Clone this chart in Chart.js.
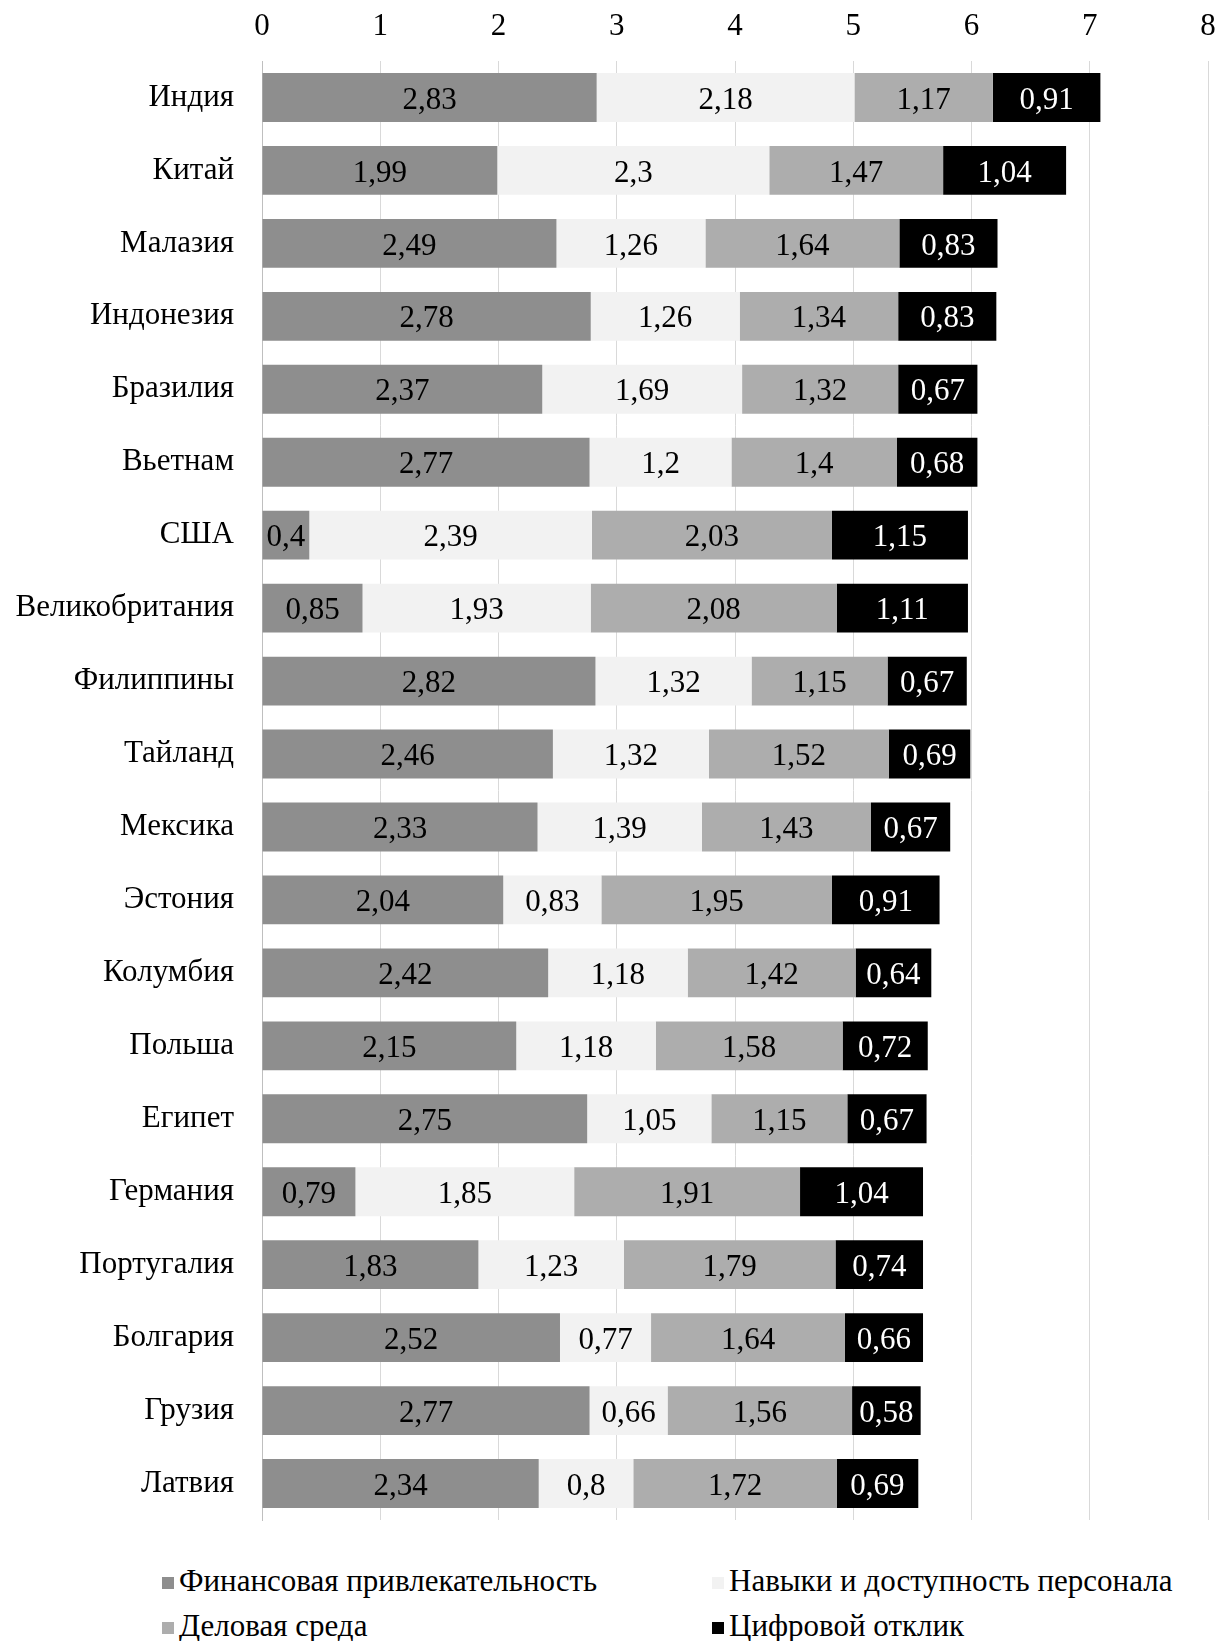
<!DOCTYPE html>
<html>
<head>
<meta charset="utf-8">
<script src="https://cdn.jsdelivr.net/npm/chart.js@4/dist/chart.umd.min.js"></script>
<style>
  body { margin: 0; background: #fff; overflow: hidden; }
  #wrap { position: relative; width: 1226px; height: 1641px; }
  #legend { position: absolute; left: 0; top: 1563px; width: 1226px; font-family: "Liberation Serif", serif; font-size: 31px; color: #000; }
  .item { position: absolute; display: flex; align-items: center; white-space: nowrap; }
  .box { width: 12px; height: 12px; margin-right: 5px; margin-top: 4px; }
</style>
</head>
<body>
<div id="wrap">
  <canvas id="chart" width="1226" height="1545"></canvas>
  <div id="legend"></div>
</div>
<script>
// категории и значения
const countries = ['Индия', 'Китай', 'Малазия', 'Индонезия', 'Бразилия', 'Вьетнам', 'США', 'Великобритания',
  'Филиппины', 'Тайланд', 'Мексика', 'Эстония', 'Колумбия', 'Польша', 'Египет', 'Германия',
  'Португалия', 'Болгария', 'Грузия', 'Латвия'];
const seriesNames = ['Финансовая привлекательность', 'Навыки и доступность персонала', 'Деловая среда', 'Цифровой отклик'];
const finance = [2.83, 1.99, 2.49, 2.78, 2.37, 2.77, 0.4, 0.85, 2.82, 2.46, 2.33, 2.04, 2.42, 2.15, 2.75, 0.79, 1.83, 2.52, 2.77, 2.34];
const skills = [2.18, 2.3, 1.26, 1.26, 1.69, 1.2, 2.39, 1.93, 1.32, 1.32, 1.39, 0.83, 1.18, 1.18, 1.05, 1.85, 1.23, 0.77, 0.66, 0.8];
const business = [1.17, 1.47, 1.64, 1.34, 1.32, 1.4, 2.03, 2.08, 1.15, 1.52, 1.43, 1.95, 1.42, 1.58, 1.15, 1.91, 1.79, 1.64, 1.56, 1.72];
const digital = [0.91, 1.04, 0.83, 0.83, 0.67, 0.68, 1.15, 1.11, 0.67, 0.69, 0.67, 0.91, 0.64, 0.72, 0.67, 1.04, 0.74, 0.66, 0.58, 0.69];
const xTicks = [0, 1, 2, 3, 4, 5, 6, 7, 8];

const colors = ['#8e8e8e', '#f2f2f2', '#adadad', '#000000'];
const labelColors = ['#000', '#000', '#000', '#fff'];
const FONT = '"Liberation Serif", serif';

// подписи значений внутри сегментов
const valueLabels = {
  id: 'valueLabels',
  afterDatasetsDraw(chart) {
    const { ctx } = chart;
    ctx.save();
    ctx.font = '31px ' + FONT;
    ctx.textAlign = 'center';
    ctx.textBaseline = 'middle';
    chart.data.datasets.forEach((ds, i) => {
      const meta = chart.getDatasetMeta(i);
      ctx.fillStyle = labelColors[i];
      meta.data.forEach((el, j) => {
        const txt = String(ds.data[j]).replace('.', ',');
        ctx.fillText(txt, (el.x + el.base) / 2, el.y + 3);
      });
    });
    ctx.restore();
  }
};

const datasets = [finance, skills, business, digital].map((d, i) => ({
  label: seriesNames[i],
  data: d,
  backgroundColor: colors[i],
  borderWidth: 0,
  categoryPercentage: 0.67,
  barPercentage: 1
}));

new Chart(document.getElementById('chart'), {
  type: 'bar',
  data: { labels: countries, datasets: datasets },
  plugins: [valueLabels],
  options: {
    indexAxis: 'y',
    responsive: false,
    animation: false,
    layout: { padding: { left: 0, right: 18, top: 0, bottom: 25 } },
    plugins: { legend: { display: false }, tooltip: { enabled: false } },
    scales: {
      x: {
        position: 'top',
        stacked: true,
        min: 0,
        max: 8,
        afterBuildTicks: (scale) => { scale.ticks = xTicks.map(v => ({ value: v })); },
        afterFit: (scale) => { scale.height = 61; scale.paddingLeft = 0; scale.paddingRight = 0; },
        ticks: { font: { family: FONT, size: 31 }, color: '#000', padding: 16 },
        grid: { color: '#d9d9d9', lineWidth: 1, drawTicks: false },
        border: { display: false }
      },
      y: {
        stacked: true,
        afterFit: (scale) => { scale.width = 262; scale.paddingTop = 0; scale.paddingBottom = 0; },
        ticks: { font: { family: FONT, size: 31 }, color: '#000', padding: 28 },
        grid: { display: false, drawTicks: false },
        border: { display: true, color: '#bfbfbf', width: 1 }
      }
    }
  }
});

// легенда в две колонки
const legend = document.getElementById('legend');
const pos = [[162, 0], [712, 0], [162, 45], [712, 45]];
seriesNames.forEach((name, i) => {
  const it = document.createElement('div');
  it.className = 'item';
  it.style.left = pos[i][0] + 'px';
  it.style.top = pos[i][1] + 'px';
  const b = document.createElement('span');
  b.className = 'box';
  b.style.background = colors[i];
  it.appendChild(b);
  it.appendChild(document.createTextNode(name));
  legend.appendChild(it);
});
</script>
</body>
</html>
